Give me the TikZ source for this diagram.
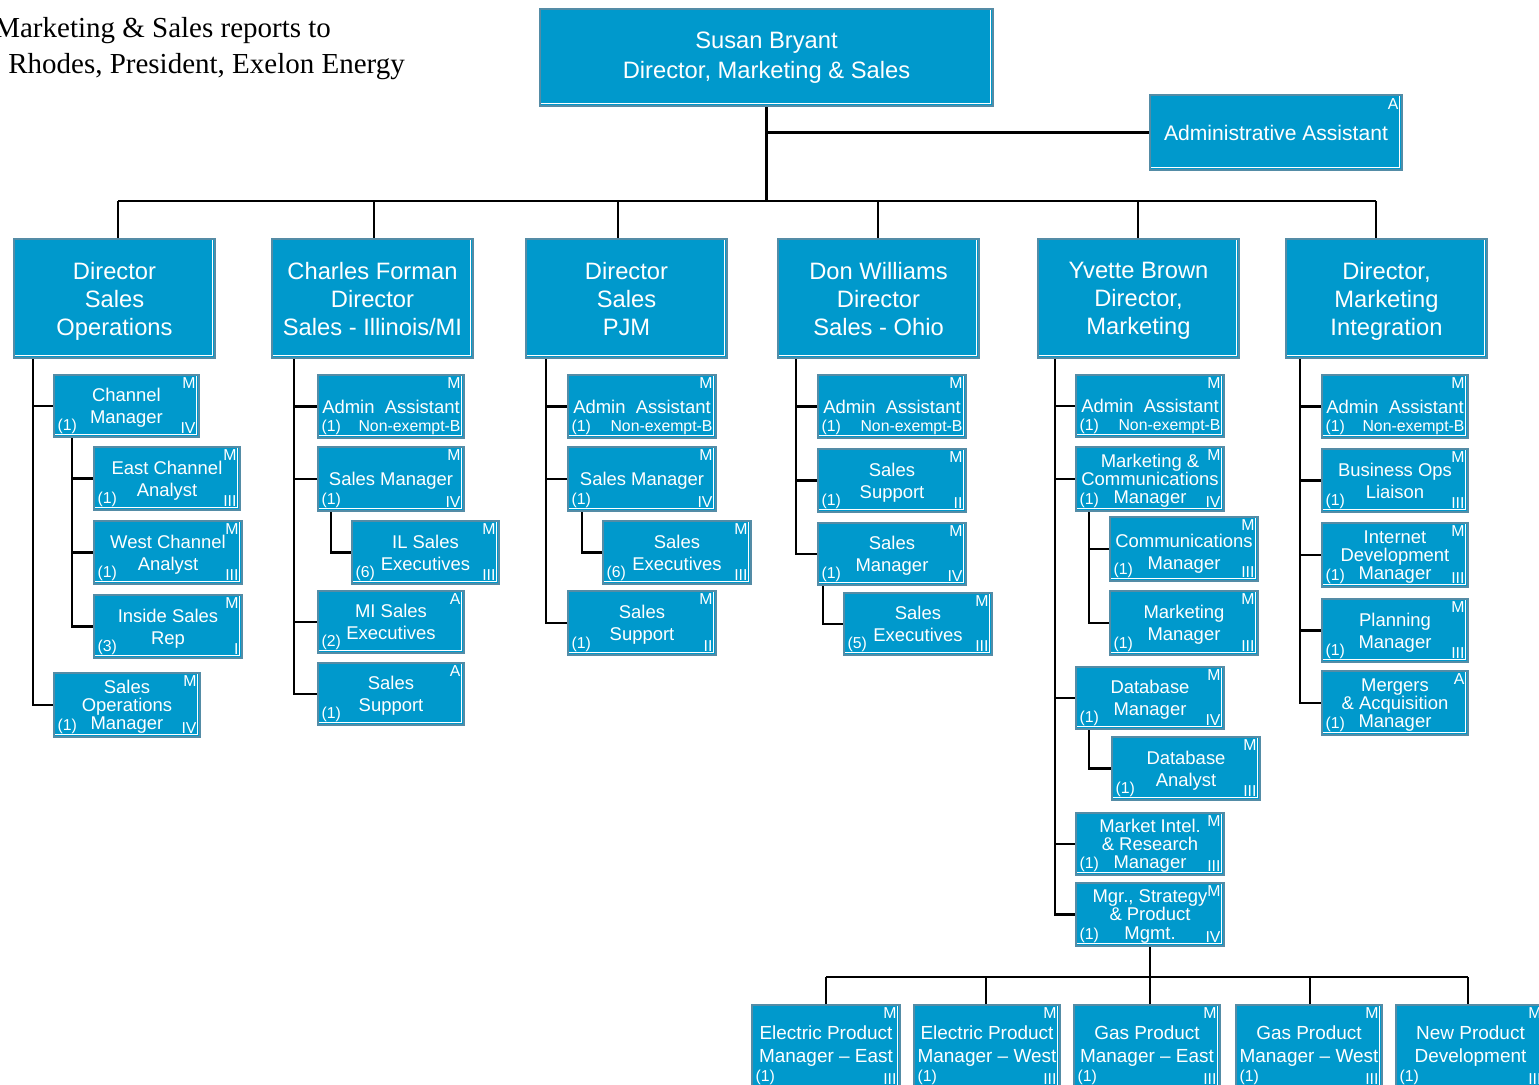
\documentclass[tikz,border=0pt]{standalone}
\usepackage{fontspec}
\setmainfont{Liberation Sans}
\newfontfamily\titlefont{Liberation Serif}
\usetikzlibrary{fit,calc}
\definecolor{boxfill}{RGB}{0,153,204}
\definecolor{boxedge}{RGB}{84,140,166}
\tikzset{
  box/.style={rectangle, draw=boxedge, fill=boxfill, line width=1.4pt, inner sep=0pt,
    path picture={\draw[white, line width=0.5pt]
      ([shift={(0pt,1.2pt)}]path picture bounding box.south west) --
      ([shift={(-1.2pt,1.2pt)}]path picture bounding box.south east) --
      ([shift={(-1.2pt,0pt)}]path picture bounding box.north east);}},
  boxtext/.style={text=white, align=center, inner sep=0pt, anchor=center},
  toptext/.style={boxtext, font=\fontsize{13.5}{17}\selectfont},
  admtext/.style={boxtext, font=\fontsize{12}{15}\selectfont},
  dirtext/.style={boxtext, text depth=0pt, font=\fontsize{13.5}{15.9}\selectfont},
  subtext/.style={boxtext, text depth=0pt, font=\fontsize{10.5}{12.5}\selectfont},
  tight/.style={font=\fontsize{10.5}{10.3}\selectfont},
  wide/.style={yshift=1.2pt, font=\fontsize{10.8}{13}\selectfont},
  low/.style={yshift=-1.8pt},
  tag/.style={text=white, inner sep=2.5pt, font=\fontsize{9}{10}\selectfont},
  conn/.style={line width=1.4pt, black},
  title/.style={font=\titlefont\fontsize{16.5}{20}\selectfont, anchor=base west, inner sep=0pt}
}
% one position box: name, corners, title, tag, head count, grade
\newcommand{\posbox}[8][]{%
  \node[box, fit={#3 #4}] (#2) {};
  \node[subtext, #1] (#2-t) at (#2.center) {#5};
  \node[tag, anchor=north east, inner ysep=2pt] (#2-m) at (#2.north east) {#6};
  \node[tag, anchor=south west] (#2-n) at (#2.south west) {#7};
  \node[tag, anchor=south east] (#2-g) at (#2.south east) {#8};
}

\begin{document}
\begin{tikzpicture}[x=0.02cm, y=-0.02cm]
  \useasboundingbox (0,0) rectangle (1539,1085);
  \clip (0,0) rectangle (1539,1085);

  % Title
  \node[title] (ttl1) at (-6,37) {Marketing \& Sales reports to};
  \node[title] (ttl2) at (8,73) {Rhodes, President, Exelon Energy};

  % Top of the chart
  \node[box, fit={(540,9) (993,106)}] (top) {};
  \node[toptext] (top-t) at (top.center) {Susan Bryant\\Director, Marketing \& Sales};
  \node[box, fit={(1150,95) (1402,170)}] (adm) {};
  \node[admtext] (adm-t) at (adm.center) {Administrative Assistant};
  \node[tag, anchor=north east] (adm-m) at (adm.north east) {A};

  % Directors
  \node[box, fit={(14,239) (215,358)}] (d1) {};
  \node[box, fit={(272,239) (473,358)}] (d2) {};
  \node[box, fit={(526,239) (727,358)}] (d3) {};
  \node[box, fit={(778,239) (979,358)}] (d4) {};
  \node[box, fit={(1038,239) (1239,358)}] (d5) {};
  \node[box, fit={(1286,239) (1487,358)}] (d6) {};
  \node[dirtext] (d1-t) at (d1.center) {Director\\Sales\\Operations};
  \node[dirtext] (d2-t) at (d2.center) {Charles Forman\\Director\\Sales - Illinois/MI};
  \node[dirtext] (d3-t) at (d3.center) {Director\\Sales\\PJM};
  \node[dirtext] (d4-t) at (d4.center) {Don Williams\\Director\\Sales - Ohio};
  \node[dirtext] (d5-t) at (d5.center) {Yvette Brown\\Director,\\Marketing};
  \node[dirtext] (d6-t) at (d6.center) {Director,\\Marketing\\Integration};

  % Sales Operations
  \posbox{cm}{(54,375)}{(199,437)}{Channel\\Manager}{M}{(1)}{IV}
  \posbox{eca}{(94,447)}{(240,510)}{East Channel\\Analyst}{M}{(1)}{III}
  \posbox{wca}{(94,521)}{(242,584)}{West Channel\\Analyst}{M}{(1)}{III}
  \posbox{isr}{(94,595)}{(242,658)}{Inside Sales\\Rep}{M}{(3)}{I}
  \posbox[tight]{som}{(54,673)}{(200,737)}{Sales\\Operations\\Manager}{M}{(1)}{IV}

  % Sales Illinois/MI
  \posbox{aa2}{(318,375)}{(464,438)}{Admin\ \ Assistant}{M}{(1)}{Non-exempt-B}
  \posbox{sm2}{(318,447)}{(464,511)}{Sales Manager}{M}{(1)}{IV}
  \posbox{il}{(352,521)}{(499,584)}{IL Sales\\Executives}{M}{(6)}{III}
  \posbox{mi}{(318,591)}{(464,653)}{MI Sales\\Executives}{A}{(2)}{}
  \posbox{ss2}{(318,663)}{(464,725)}{Sales\\Support}{A}{(1)}{}

  % Sales PJM
  \posbox{aa3}{(568,375)}{(716,438)}{Admin\ \ Assistant}{M}{(1)}{Non-exempt-B}
  \posbox{sm3}{(568,447)}{(716,511)}{Sales Manager}{M}{(1)}{IV}
  \posbox{se3}{(603,521)}{(751,584)}{Sales\\Executives}{M}{(6)}{III}
  \posbox{ss3}{(568,591)}{(716,655)}{Sales\\Support}{M}{(1)}{II}

  % Sales Ohio
  \posbox{aa4}{(818,375)}{(966,438)}{Admin\ \ Assistant}{M}{(1)}{Non-exempt-B}
  \posbox{ss4}{(818,449)}{(966,512)}{Sales\\Support}{M}{(1)}{II}
  \posbox{sm4}{(818,523)}{(966,585)}{Sales\\Manager}{M}{(1)}{IV}
  \posbox{se4}{(844,593)}{(992,655)}{Sales\\Executives}{M}{(5)}{III}

  % Marketing
  \posbox{aa5}{(1076,375)}{(1224,437)}{Admin\ \ Assistant}{M}{(1)}{Non-exempt-B}
  \posbox[tight]{mcm}{(1076,447)}{(1224,511)}{Marketing \&\\Communications\\Manager}{M}{(1)}{IV}
  \posbox[low]{com}{(1110,517)}{(1258,581)}{Communications\\Manager}{M}{(1)}{III}
  \posbox{mkm}{(1110,591)}{(1258,655)}{Marketing\\Manager}{M}{(1)}{III}
  \posbox{dbm}{(1076,667)}{(1224,729)}{Database\\Manager}{M}{(1)}{IV}
  \posbox{dba}{(1112,737)}{(1260,800)}{Database\\Analyst}{M}{(1)}{III}
  \posbox[tight]{mir}{(1076,813)}{(1224,875)}{Market Intel.\\\& Research\\Manager}{M}{(1)}{III}
  \posbox[tight]{msp}{(1076,883)}{(1224,946)}{Mgr., Strategy\\\& Product\\Mgmt.}{M}{(1)}{IV}

  % Marketing Integration
  \posbox{aa6}{(1322,375)}{(1468,438)}{Admin\ \ Assistant}{M}{(1)}{Non-exempt-B}
  \posbox{bol}{(1322,449)}{(1468,512)}{Business Ops\\Liaison}{M}{(1)}{III}
  \posbox[tight]{idm}{(1322,523)}{(1468,587)}{Internet\\Development\\Manager}{M}{(1)}{III}
  \posbox{plm}{(1322,599)}{(1468,662)}{Planning\\Manager}{M}{(1)}{III}
  \posbox[tight]{mam}{(1322,671)}{(1468,735)}{Mergers\\\& Acquisition\\Manager}{A}{(1)}{}

  % Product managers
  \posbox[wide]{ep1}{(752,1005)}{(900,1088)}{Electric Product\\Manager – East}{M}{(1)}{III}
  \posbox[wide]{ep2}{(914,1005)}{(1060,1088)}{Electric Product\\Manager – West}{M}{(1)}{III}
  \posbox[wide]{gp1}{(1074,1005)}{(1220,1088)}{Gas Product\\Manager – East}{M}{(1)}{III}
  \posbox[wide]{gp2}{(1236,1005)}{(1382,1088)}{Gas Product\\Manager – West}{M}{(1)}{III}
  \posbox[wide]{npd}{(1396,1005)}{(1545,1088)}{New Product\\Development}{M}{(1)}{III}

  % Connectors from the top
  \coordinate (bus) at (0,201);
  \coordinate (k1) at (118,201);
  \coordinate (k2) at (374,201);
  \coordinate (k3) at (618,201);
  \coordinate (k4) at (878,201);
  \coordinate (k5) at (1138,201);
  \coordinate (k6) at (1376,201);
  \draw[conn] (top.south) -- (top.south |- bus);
  \draw[conn] (top.south |- adm.west) -- (adm.west);
  \draw[conn] (k1) -- (k6);
  \draw[conn] (k1) -- (k1 |- d1.north);
  \draw[conn] (k2) -- (k2 |- d2.north);
  \draw[conn] (k3) -- (k3 |- d3.north);
  \draw[conn] (k4) -- (k4 |- d4.north);
  \draw[conn] (k5) -- (k5 |- d5.north);
  \draw[conn] (k6) -- (k6 |- d6.north);

  % Spines below the directors
  \coordinate (x1) at (33,0);
  \coordinate (x1s) at (72,0);
  \coordinate (x2) at (294,0);
  \coordinate (x2s) at (331,0);
  \coordinate (x3) at (546,0);
  \coordinate (x3s) at (582,0);
  \coordinate (x4) at (796,0);
  \coordinate (x4s) at (823,0);
  \coordinate (x5) at (1055,0);
  \coordinate (x5s) at (1089,0);
  \coordinate (x6) at (1300,0);

  \draw[conn] (d1.south -| x1) |- (som.west);
  \draw[conn] (x1 |- cm.west) -- (cm.west);
  \draw[conn] (cm.south -| x1s) |- (isr.west);
  \foreach \n in {eca,wca} \draw[conn] (x1s |- \n.west) -- (\n.west);

  \draw[conn] (d2.south -| x2) |- (ss2.west);
  \foreach \n in {aa2,sm2,mi} \draw[conn] (x2 |- \n.west) -- (\n.west);
  \draw[conn] (sm2.south -| x2s) |- (il.west);

  \draw[conn] (d3.south -| x3) |- (ss3.west);
  \foreach \n in {aa3,sm3} \draw[conn] (x3 |- \n.west) -- (\n.west);
  \draw[conn] (sm3.south -| x3s) |- (se3.west);

  \draw[conn] (d4.south -| x4) |- (sm4.west);
  \foreach \n in {aa4,ss4} \draw[conn] (x4 |- \n.west) -- (\n.west);
  \draw[conn] (sm4.south -| x4s) |- (se4.west);

  \draw[conn] (d5.south -| x5) |- (msp.west);
  \foreach \n in {aa5,mcm,dbm,mir} \draw[conn] (x5 |- \n.west) -- (\n.west);
  \draw[conn] (mcm.south -| x5s) |- (mkm.west);
  \draw[conn] (x5s |- com.west) -- (com.west);
  \draw[conn] (dbm.south -| x5s) |- (dba.west);

  \draw[conn] (d6.south -| x6) |- (mam.west);
  \foreach \n in {aa6,bol,idm,plm} \draw[conn] (x6 |- \n.west) -- (\n.west);

  % Product managers bus
  \coordinate (b1) at (826,977);
  \coordinate (b2) at (986,977);
  \coordinate (b3) at (1150,977);
  \coordinate (b4) at (1310,977);
  \coordinate (b5) at (1468,977);
  \draw[conn] (msp.south) -- (msp.south |- b1);
  \draw[conn] (b1) -- (b5);
  \draw[conn] (b1) -- (b1 |- ep1.north);
  \draw[conn] (b2) -- (b2 |- ep2.north);
  \draw[conn] (b3) -- (b3 |- gp1.north);
  \draw[conn] (b4) -- (b4 |- gp2.north);
  \draw[conn] (b5) -- (b5 |- npd.north);
\end{tikzpicture}
\end{document}
